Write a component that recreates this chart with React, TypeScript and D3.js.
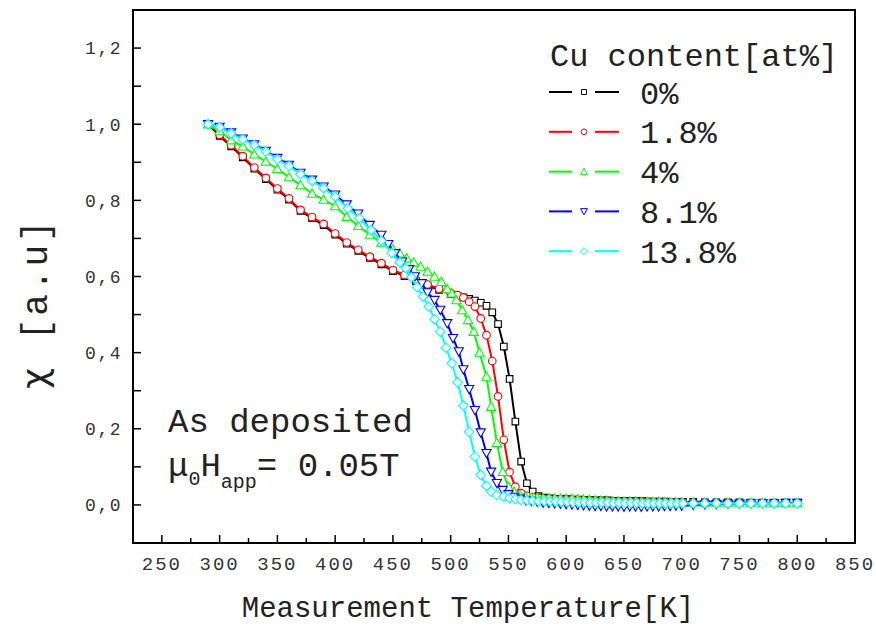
import React from 'react';
import * as d3 from 'd3';

// ---------- data ----------
const seriesLabels = ['0%', '1.8%', '4%', '8.1%', '13.8%'];
const seriesColors = ['#000000', '#ff0000', '#00ff00', '#0000ff', '#00ffff'];
const seriesShapes = ['square', 'circle', 'triangle', 'triangleDown', 'diamond'];

const xTicks = [250, 300, 350, 400, 450, 500, 550, 600, 650, 700, 750, 800, 850];
const yTicks = [0, 0.2, 0.4, 0.6, 0.8, 1.0, 1.2];

// 0 %
const temps0 = [290, 300, 310, 320, 330, 340, 350, 360, 370, 380, 390, 400, 410, 420, 430, 440, 450, 460, 470, 480, 490, 500,
  506, 511, 516, 521, 526, 531, 536, 541, 546, 551, 556, 561, 566, 571, 576, 581, 586, 591, 596, 601, 606, 611, 616, 621, 626,
  631, 636, 641, 646, 651, 656, 661, 666, 671, 676, 681, 686, 691, 696, 701, 710, 720, 730, 740, 750, 760, 770, 780, 790, 800];
const chi0 = [1.0, 0.969, 0.942, 0.913, 0.883, 0.856, 0.828, 0.802, 0.772, 0.753, 0.735, 0.710, 0.686, 0.667, 0.649, 0.632, 0.614, 0.601, 0.588, 0.576, 0.565, 0.554,
  0.549, 0.545, 0.541, 0.537, 0.531, 0.523, 0.506, 0.475, 0.416, 0.331, 0.219, 0.114, 0.057, 0.035, 0.023, 0.019, 0.017, 0.016, 0.015, 0.015, 0.014, 0.014, 0.013, 0.013, 0.012,
  0.012, 0.012, 0.011, 0.011, 0.011, 0.010, 0.010, 0.010, 0.009, 0.009, 0.009, 0.009, 0.008, 0.008, 0.008, 0.008, 0.007, 0.007, 0.007, 0.007, 0.006, 0.006, 0.006, 0.006, 0.006];

// 1.8 %
const temps1 = [290, 300, 310, 320, 330, 340, 350, 360, 370, 380, 390, 400, 410, 420, 430, 440, 450, 460, 470, 480, 490, 500,
  506, 511, 516, 521, 526, 531, 536, 541, 546, 551, 556, 561, 566, 571, 576, 581, 586, 591, 596, 601, 606, 611, 616, 621, 626,
  631, 636, 641, 646, 651, 656, 661, 666, 671, 676, 681, 686, 691, 696, 701, 710, 720, 730, 740, 750, 760, 770, 780, 790, 800];
const chi1 = [1.0, 0.972, 0.945, 0.916, 0.886, 0.859, 0.831, 0.805, 0.775, 0.756, 0.738, 0.713, 0.689, 0.670, 0.652, 0.635, 0.617, 0.604, 0.591, 0.579, 0.568, 0.557,
  0.551, 0.545, 0.534, 0.521, 0.490, 0.446, 0.378, 0.285, 0.171, 0.086, 0.048, 0.031, 0.024, 0.020, 0.018, 0.016, 0.015, 0.014, 0.013, 0.013, 0.012, 0.012, 0.011, 0.011, 0.010,
  0.010, 0.010, 0.009, 0.009, 0.009, 0.008, 0.008, 0.008, 0.008, 0.007, 0.007, 0.007, 0.007, 0.007, 0.006, 0.006, 0.006, 0.006, 0.006, 0.005, 0.005, 0.005, 0.005, 0.005, 0.005];

// 4 %
const temps2 = [290, 300, 310, 320, 330, 340, 350, 360, 370, 380, 390, 400, 410, 420, 430, 440, 450, 456, 462, 468, 474, 480, 486, 492,
  497, 501, 505, 510, 515, 520, 525, 531, 535, 540, 545, 550, 555, 560, 565, 570, 575, 580, 585, 590, 595, 600, 605, 610, 615, 620,
  625, 630, 635, 640, 645, 650, 655, 660, 665, 670, 675, 680, 685, 690, 695, 700, 710, 720, 730, 740, 750, 760, 770, 780, 790, 800];
const chi2 = [1.0, 0.982, 0.958, 0.942, 0.921, 0.902, 0.883, 0.861, 0.840, 0.818, 0.802, 0.785, 0.757, 0.733, 0.710, 0.689, 0.672, 0.661, 0.648, 0.637, 0.626, 0.613, 0.600, 0.586,
  0.567, 0.556, 0.538, 0.512, 0.486, 0.455, 0.400, 0.337, 0.258, 0.163, 0.087, 0.048, 0.035, 0.027, 0.022, 0.020, 0.019, 0.018, 0.018, 0.017, 0.017, 0.016, 0.016, 0.015, 0.014, 0.013,
  0.012, 0.011, 0.011, 0.010, 0.010, 0.009, 0.009, 0.009, 0.008, 0.008, 0.008, 0.008, 0.007, 0.007, 0.007, 0.007, 0.007, 0.006, 0.006, 0.006, 0.006, 0.006, 0.005, 0.005, 0.005, 0.005];

// 8.1 %
const temps3 = [290, 300, 310, 320, 330, 340, 350, 360, 370, 380, 390, 400, 410, 420, 430, 440, 446, 452, 458, 464, 469, 475, 480, 486,
  491, 497, 502, 507, 511, 516, 521, 526, 531, 535, 540, 545, 550, 555, 560, 565, 570, 575, 580, 585, 590, 595, 600, 605, 610, 615, 620,
  625, 630, 635, 640, 645, 650, 655, 660, 665, 670, 675, 680, 685, 690, 695, 700, 710, 720, 730, 740, 750, 760, 770, 780, 790, 800];
const chi3 = [1.0, 0.993, 0.978, 0.962, 0.947, 0.930, 0.911, 0.893, 0.872, 0.854, 0.836, 0.815, 0.789, 0.765, 0.735, 0.709, 0.685, 0.661, 0.639, 0.619, 0.600, 0.582, 0.558, 0.538,
  0.512, 0.477, 0.438, 0.403, 0.356, 0.304, 0.249, 0.190, 0.136, 0.087, 0.057, 0.039, 0.028, 0.021, 0.016, 0.012, 0.010, 0.008, 0.006, 0.005, 0.004, 0.003, 0.002, 0.001, 0.000, -0.001, -0.002,
  -0.003, -0.003, -0.004, -0.004, -0.004, -0.005, -0.004, -0.004, -0.005, -0.004, -0.004, -0.004, -0.003, -0.003, -0.002, -0.002, 0.000, 0.001, 0.002, 0.003, 0.003, 0.004, 0.004, 0.004, 0.005, 0.005];

// 13.8 %
const temps4 = [290, 300, 310, 320, 330, 340, 350, 360, 370, 380, 390, 400, 411, 421, 431, 440, 449, 456, 461, 466, 471, 476, 481, 486,
  491, 496, 501, 506, 511, 516, 521, 526, 531, 535, 540, 546, 551, 556, 561, 566, 571, 576, 581, 586, 591, 596, 601, 606, 611, 616, 621,
  626, 631, 636, 641, 646, 651, 656, 661, 666, 671, 676, 681, 686, 691, 696, 701, 710, 720, 730, 740, 750, 760, 770, 780, 790, 800];
const chi4 = [1.0, 0.992, 0.976, 0.960, 0.945, 0.928, 0.908, 0.890, 0.869, 0.851, 0.832, 0.810, 0.779, 0.753, 0.722, 0.694, 0.662, 0.637, 0.622, 0.598, 0.572, 0.547, 0.521, 0.488,
  0.455, 0.413, 0.372, 0.322, 0.261, 0.192, 0.127, 0.079, 0.050, 0.035, 0.026, 0.022, 0.018, 0.015, 0.013, 0.012, 0.011, 0.010, 0.010, 0.009, 0.009, 0.008, 0.008, 0.007, 0.007, 0.007, 0.006,
  0.006, 0.006, 0.006, 0.005, 0.005, 0.005, 0.005, 0.005, 0.004, 0.004, 0.004, 0.004, 0.004, 0.004, 0.004, 0.004, 0.004, 0.004, 0.004, 0.004, 0.004, 0.004, 0.004, 0.004, 0.004, 0.004];

const seriesTemps = [temps0, temps1, temps2, temps3, temps4];
const seriesChi = [chi0, chi1, chi2, chi3, chi4];

// ---------- layout ----------
const W = 876;
const H = 627;
const PL = 133, PR = 855, PT = 10, PB = 543;
const FONT = "'Liberation Mono', 'Courier New', monospace";

const x = d3.scaleLinear().domain([225, 850]).range([PL, PR]);
const y = d3.scaleLinear().domain([-0.1, 1.3]).range([PB, PT]);

function markerPath(shape: string, k: number): string {
  switch (shape) {
    case 'square': {
      const s = 3.3 * k;
      return `M${-s},${-s}H${s}V${s}H${-s}Z`;
    }
    case 'circle': {
      const r = 3.8 * k;
      return `M${r},0A${r},${r} 0 1,1 ${-r},0A${r},${r} 0 1,1 ${r},0Z`;
    }
    case 'triangle': {
      const s = 4.6 * k;
      return `M0,${-s}L${s},${s * 0.8}L${-s},${s * 0.8}Z`;
    }
    case 'triangleDown': {
      const s = 4.6 * k;
      return `M0,${s}L${s},${-s * 0.8}L${-s},${-s * 0.8}Z`;
    }
    default: {
      const s = 4.8 * k;
      return `M0,${-s}L${s},0L0,${s}L${-s},0Z`;
    }
  }
}

const fmt = (v: number) => d3.format('.1f')(v).replace('.', ',');

export default function App() {
  const line = d3.line<[number, number]>().x((d) => x(d[0])).y((d) => y(d[1]));
  const xMinor = d3.range(250, 851, 25).filter((v) => v % 50 !== 0);
  const yMinor = [-0.1, 0.1, 0.3, 0.5, 0.7, 0.9, 1.1];
  const legendY = (i: number) => 92 + i * 39.8;

  return (
    <svg width={W} height={H} style={{ position: 'absolute', left: 0, top: 0, background: '#fff' }}
      xmlns="http://www.w3.org/2000/svg">
      <rect x={0} y={0} width={W} height={H} fill="#fff" />
      {/* series */}
      {seriesTemps.map((ts, si) => {
        const pts: [number, number][] = ts.map((t, i) => [t, seriesChi[si][i]]);
        return (
          <g key={si}>
            <path d={line(pts) || ''} fill="none" stroke={seriesColors[si]} strokeWidth={2} />
            {pts.map((p, i) => (
              <path key={i} d={markerPath(seriesShapes[si], 1)} transform={`translate(${x(p[0])},${y(p[1])})`}
                fill="#fff" stroke={seriesColors[si]} strokeWidth={1.1} />
            ))}
          </g>
        );
      })}
      {/* frame */}
      <rect x={PL} y={PT} width={PR - PL} height={PB - PT} fill="none" stroke="#000" strokeWidth={2} />
      {/* x ticks */}
      {xTicks.map((t) => (
        <g key={'xt' + t}>
          <line x1={x(t)} x2={x(t)} y1={PB} y2={PB - 8} stroke="#000" strokeWidth={1.5} />
          <text x={x(t)} y={570} textAnchor="middle" fontFamily={FONT} fontSize={19} letterSpacing={2} fill="#333">{t}</text>
        </g>
      ))}
      {xMinor.map((t) => (
        <line key={'xm' + t} x1={x(t)} x2={x(t)} y1={PB} y2={PB - 5} stroke="#000" strokeWidth={1.5} />
      ))}
      {/* y ticks */}
      {yTicks.map((t) => (
        <g key={'yt' + t}>
          <line x1={PL} x2={PL + 8} y1={y(t)} y2={y(t)} stroke="#000" strokeWidth={1.5} />
          <text x={122} y={y(t)} dy="0.35em" textAnchor="end" fontFamily={FONT} fontSize={18} letterSpacing={1.5} fill="#333">{fmt(t)}</text>
        </g>
      ))}
      {yMinor.map((t) => (
        <line key={'ym' + t} x1={PL} x2={PL + 8} y1={y(t)} y2={y(t)} stroke="#000" strokeWidth={1.5} />
      ))}
      {/* axis titles */}
      <text x={468} y={617} textAnchor="middle" fontFamily={FONT} fontSize={29} fill="#222">Measurement Temperature[K]</text>
      <text transform="translate(47,303) rotate(-90)" textAnchor="middle" fontFamily={FONT} fontSize={36} letterSpacing={3} fill="#222">
        <tspan fontFamily="'DejaVu Sans', sans-serif">χ</tspan> [a.u]
      </text>
      {/* legend */}
      <text x={550} y={66} fontFamily={FONT} fontSize={32} fill="#222">Cu content[at%]</text>
      {seriesLabels.map((lab, i) => (
        <g key={'lg' + i}>
          <line x1={549} x2={572} y1={legendY(i)} y2={legendY(i)} stroke={seriesColors[i]} strokeWidth={2} />
          <line x1={595} x2={619} y1={legendY(i)} y2={legendY(i)} stroke={seriesColors[i]} strokeWidth={2} />
          <path d={markerPath(seriesShapes[i], 0.75)} transform={`translate(584,${legendY(i)})`} fill="#fff" stroke={seriesColors[i]} strokeWidth={1} />
          <text x={640} y={legendY(i)} dy="0.36em" fontFamily={FONT} fontSize={32} fill="#222">{lab}</text>
        </g>
      ))}
      {/* annotation */}
      <text x={168} y={432} fontFamily={FONT} fontSize={34} fill="#222">As deposited</text>
      <text x={168} y={476} fontFamily={FONT} fontSize={34} fill="#222">
        μ<tspan fontSize={20} dy={9}>0</tspan><tspan dy={-9}>H</tspan><tspan fontSize={20} dy={12}>app</tspan><tspan dy={-12}>= 0.05T</tspan>
      </text>
    </svg>
  );
}
